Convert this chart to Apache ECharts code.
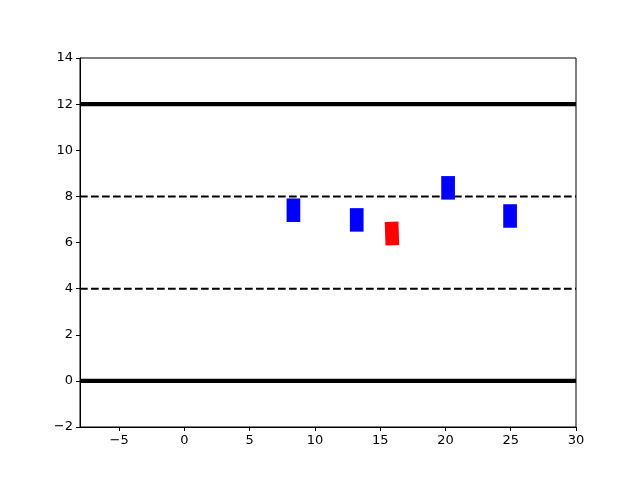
<!DOCTYPE html>
<html>
<head>
<meta charset="utf-8">
<script src="https://cdn.jsdelivr.net/npm/echarts@6/dist/echarts.min.js"></script>
<style>html,body{margin:0;padding:0;background:#fff;}#c{width:640px;height:480px;}</style>
</head>
<body>
<div id="c"></div>
<script>
var xTicks = [-5, 0, 5, 10, 15, 20, 25, 30];
var yTicks = [-2, 0, 2, 4, 6, 8, 10, 12, 14];
var boxX = [8.35, 13.2, 15.9, 20.2, 24.95];
var boxY = [7.4, 6.98, 6.39, 8.37, 7.15];
var boxColor = ['#0000ff', '#0000ff', '#ff0000', '#0000ff', '#0000ff'];
var boxAngle = [0, 0, 2, 0, 0];
var boxW = 1.05;
var boxH = 1.02;
var solidLevels = [0, 12];
var dashedLevels = [4, 8];
var xRange = [-8, 30];
var yRange = [-2, 14];

function fmt(v) { return String(v).replace('-', '\u2212'); }

var series = [];
solidLevels.forEach(function (lv) {
  series.push({ type: 'line', data: [[xRange[0], lv], [xRange[1], lv]], symbol: 'none',
    lineStyle: { color: '#000', width: 4.2 }, silent: true, z: 3 });
});
dashedLevels.forEach(function (lv) {
  series.push({ type: 'line', data: [[xRange[0], lv], [xRange[1], lv]], symbol: 'none',
    lineStyle: { color: '#000', width: 2, type: [7.7, 3.3] }, silent: true, z: 3 });
});
series.push({
  type: 'custom',
  z: 4,
  data: boxX.map(function (x, i) { return [x, boxY[i], i]; }),
  renderItem: function (params, api) {
    var c = api.coord([api.value(0), api.value(1)]);
    var s = api.size([boxW, boxH]);
    var i = api.value(2);
    return {
      type: 'rect',
      x: c[0], y: c[1],
      rotation: boxAngle[i] * Math.PI / 180,
      shape: { x: -s[0] / 2, y: -s[1] / 2, width: s[0], height: s[1] },
      style: { fill: boxColor[i] }
    };
  }
});

var chart = echarts.init(document.getElementById('c'), null, { renderer: 'canvas' });
chart.setOption({
  animation: false,
  backgroundColor: '#fff',
  grid: { left: 80, right: 64, top: 58, bottom: 53, show: true, borderColor: '#000', borderWidth: 1, backgroundColor: 'transparent' },
  xAxis: {
    type: 'value', min: xRange[0], max: xRange[1],
    splitLine: { show: false },
    axisLine: { show: true, onZero: false, lineStyle: { color: '#000', width: 1 } },
    axisTick: { show: true, length: 4, customValues: xTicks, lineStyle: { color: '#000' } },
    axisLabel: { customValues: xTicks, color: '#000', fontSize: 13, fontFamily: 'DejaVu Sans', margin: 7, formatter: fmt }
  },
  yAxis: {
    type: 'value', min: yRange[0], max: yRange[1], interval: 2,
    splitLine: { show: false },
    axisLine: { show: true, onZero: false, lineStyle: { color: '#000', width: 1 } },
    axisTick: { show: true, length: 4, lineStyle: { color: '#000' } },
    axisLabel: { color: '#000', fontSize: 13, fontFamily: 'DejaVu Sans', margin: 7, formatter: fmt, padding: [2, 0, 0, 0] }
  },
  series: series
});
</script>
</body>
</html>
